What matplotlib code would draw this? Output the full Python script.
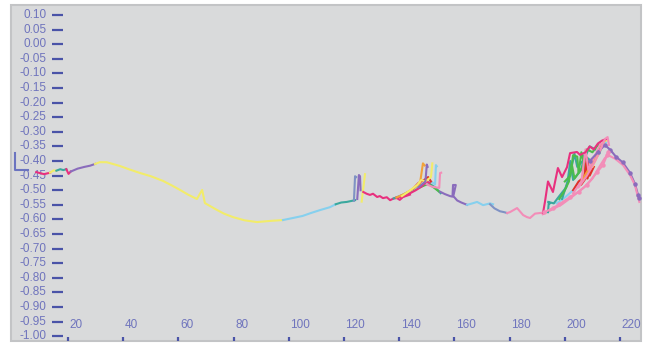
import matplotlib.pyplot as plt
import matplotlib.transforms as mtransforms
from matplotlib.patches import Rectangle

# y / x ticks
y_ticks = [0.10, 0.05, 0.00, -0.05, -0.10, -0.15, -0.20, -0.25, -0.30, -0.35, -0.40,
           -0.45, -0.50, -0.55, -0.60, -0.65, -0.70, -0.75, -0.80, -0.85, -0.90, -0.95, -1.00]
x_ticks = [20, 40, 60, 80, 100, 120, 140, 160, 180, 200, 220]

# left start
start_x = [0.8, 0.8, 5.5]
start_y = [-0.373, -0.431, -0.431]
pink0_x = [8.5, 11.3, 13.5]
pink0_y = [-0.438, -0.445, -0.440]
yellow0_x = [13.5, 14.8, 15.8]
yellow0_y = [-0.440, -0.432, -0.433]
teal0_x = [15.8, 17.2, 18.3, 19.4]
teal0_y = [-0.433, -0.428, -0.431, -0.428]
magenta0_x = [19.4, 20.2, 21.0]
magenta0_y = [-0.428, -0.444, -0.436]
purple0_x = [21.0, 23.5, 26.0, 28.0, 29.8]
purple0_y = [-0.436, -0.426, -0.420, -0.416, -0.410]

# long yellow descent
yellow_x = [29.8, 31.5, 34, 38.8, 42, 46.1, 50, 54.4, 57.5, 60.6, 63.5, 66.7, 68.6,
            69.6, 73.3, 76.5, 79.8, 84, 88.5, 93.2, 97.9]
yellow_y = [-0.410, -0.404, -0.404, -0.417, -0.428, -0.441, -0.452, -0.468, -0.483,
            -0.499, -0.515, -0.530, -0.499, -0.544, -0.564, -0.580, -0.592, -0.603,
            -0.609, -0.605, -0.602]
lblue1_x = [97.9, 102, 105, 108, 111.3, 114.9, 117]
lblue1_y = [-0.602, -0.594, -0.588, -0.578, -0.568, -0.558, -0.548]
teal1_x = [117, 119, 121, 123, 124]
teal1_y = [-0.548, -0.542, -0.540, -0.536, -0.534]
spike_teal_x = [123.6, 124.0, 124.4]
spike_teal_y = [-0.536, -0.452, -0.455]
spike_purple_x = [124.8, 125.4, 125.8, 126.0]
spike_purple_y = [-0.530, -0.448, -0.452, -0.500]
spike_yellow_x = [126.4, 127.6]
spike_yellow_y = [-0.539, -0.445]
magenta1_x = [127.0, 128.2, 129.4, 130.5, 132.0, 133.0, 134.1, 135.5, 136.7, 138.0,
              139.2, 140.2, 141.4, 143.9]
magenta1_y = [-0.506, -0.512, -0.516, -0.512, -0.523, -0.520, -0.527, -0.524, -0.534,
              -0.528, -0.527, -0.533, -0.523, -0.515]

# middle cluster
mid_orange_x = [139, 142, 145, 147.5, 148.6, 149.2]
mid_orange_y = [-0.525, -0.512, -0.495, -0.478, -0.408, -0.415]
mid_yellow_x = [141, 144, 146.5, 148.0, 149.5, 151.5, 152.0]
mid_yellow_y = [-0.520, -0.500, -0.482, -0.465, -0.470, -0.455, -0.408]
mid_teal_x = [138, 141.5, 145, 148, 151, 153, 155]
mid_teal_y = [-0.528, -0.515, -0.498, -0.484, -0.478, -0.490, -0.510]
mid_lblue_x = [140, 143, 146, 149, 151.5, 153.0, 153.3, 153.6]
mid_lblue_y = [-0.522, -0.508, -0.492, -0.478, -0.470, -0.480, -0.414, -0.418]
mid_green_x = [142, 145, 148, 150.5, 152, 154.5]
mid_green_y = [-0.518, -0.500, -0.488, -0.478, -0.487, -0.505]
mid_red_x = [145, 147, 149, 150.5, 151.5]
mid_red_y = [-0.495, -0.475, -0.465, -0.455, -0.470]
mid_pink_x = [150, 152, 154.5, 154.8, 155.2]
mid_pink_y = [-0.480, -0.488, -0.492, -0.441, -0.440]
mid_magenta_x = [139, 142, 144, 146, 148, 150, 151]
mid_magenta_y = [-0.525, -0.520, -0.510, -0.500, -0.488, -0.470, -0.475]
mid_purple_x = [147, 149.5, 150.0, 150.3]
mid_purple_y = [-0.490, -0.470, -0.412, -0.420]

purple_tail_x = [154.8, 156.5, 158.4, 159.3, 159.5, 160.5, 159.6, 161, 162.5, 164.6]
purple_tail_y = [-0.505, -0.513, -0.520, -0.522, -0.482, -0.482, -0.520, -0.535, -0.542, -0.550]
lblue2_x = [164.6, 166.5, 168.2, 170.4, 172.9, 174.0]
lblue2_y = [-0.550, -0.545, -0.540, -0.551, -0.545, -0.548]
gray_tail_x = [172.9, 174.5, 176.5, 178, 179.1]
gray_tail_y = [-0.548, -0.562, -0.572, -0.575, -0.578]
pink2_x = [179.1, 180.1, 182.7, 184.9, 186.3, 187.4, 189.2, 191.0, 192.5]
pink2_y = [-0.578, -0.575, -0.561, -0.585, -0.592, -0.595, -0.580, -0.578, -0.576]

# right cluster
pink_low1_x = [192.5, 195.7, 198, 201.9, 205, 208, 211.7, 213.8, 215.3, 215.7]
pink_low1_y = [-0.576, -0.561, -0.548, -0.523, -0.505, -0.482, -0.438, -0.414, -0.380, -0.369]
pink_low2_x = [192, 195, 199, 203, 207, 210, 212.5, 214.5, 216]
pink_low2_y = [-0.582, -0.568, -0.548, -0.520, -0.490, -0.460, -0.420, -0.390, -0.375]
pink_arc_x = [215.7, 218.2, 221.1, 223.6, 225.4, 226.5, 227.0]
pink_arc_y = [-0.380, -0.392, -0.414, -0.448, -0.482, -0.523, -0.540]
magenta_zz_x = [192.1, 192.8, 193.9, 195.7, 197.5, 199.0, 200.8, 201.9, 204.4, 205.5,
                207.5, 209, 210.5, 212, 213.5, 215]
magenta_zz_y = [-0.578, -0.540, -0.470, -0.506, -0.424, -0.455, -0.421, -0.373, -0.369,
                -0.379, -0.370, -0.350, -0.360, -0.340, -0.330, -0.325]
teal_spike_x = [193.9, 194.2, 194.6]
teal_spike_y = [-0.575, -0.540, -0.545]
green_r_x = [200, 202, 203, 204.5, 205, 206.5, 208, 210, 212]
green_r_y = [-0.470, -0.450, -0.380, -0.385, -0.440, -0.420, -0.360, -0.370, -0.345]
green2_x = [198, 200, 201.5, 202.5, 203.5, 205, 206, 207.5]
green2_y = [-0.530, -0.500, -0.470, -0.410, -0.460, -0.440, -0.370, -0.430]
teal_r_x = [194, 196, 198, 200.5, 202, 203.5, 204.5, 207, 209, 211]
teal_r_y = [-0.540, -0.545, -0.520, -0.490, -0.440, -0.375, -0.420, -0.395, -0.350, -0.360]
teal2_x = [199, 201, 202, 203, 206, 207, 209.5, 212.5, 213.5]
teal2_y = [-0.530, -0.470, -0.400, -0.465, -0.430, -0.380, -0.400, -0.375, -0.345]
red_r_x = [203, 205, 207, 208, 208.2, 209.5, 211, 213]
red_r_y = [-0.500, -0.470, -0.455, -0.390, -0.460, -0.420, -0.395, -0.350]
red2_x = [206, 207.5, 208.3, 209, 210.5]
red2_y = [-0.480, -0.460, -0.400, -0.450, -0.420]
orange_r_x = [206, 208.5, 210.5, 212, 213.5, 214.5]
orange_r_y = [-0.470, -0.430, -0.400, -0.380, -0.345, -0.330]
yellow_r_x = [210, 212, 213.5, 214.5, 215]
yellow_r_y = [-0.420, -0.380, -0.350, -0.325, -0.330]
lblue_r_x = [197, 200, 203, 206, 209, 211, 213, 215]
lblue_r_y = [-0.545, -0.525, -0.500, -0.470, -0.430, -0.395, -0.360, -0.335]
pink_hi_x = [205, 208, 211, 213, 214.5, 215.5, 216]
pink_hi_y = [-0.490, -0.450, -0.400, -0.360, -0.325, -0.318, -0.345]
pink3_x = [203, 206, 207.5, 208.5, 210, 211.5, 213]
pink3_y = [-0.510, -0.470, -0.360, -0.430, -0.400, -0.370, -0.340]
purple_r_x = [209, 212, 214.5, 216.5, 218.5, 221, 223.6, 225.4, 226.5, 227.0]
purple_r_y = [-0.400, -0.370, -0.345, -0.362, -0.385, -0.405, -0.440, -0.478, -0.515, -0.525]

YEL = '#f2ec6a'
LBL = '#86d0ee'
MAG = '#e8307e'
PNK = '#f38db8'
PUR = '#8a6cbc'
TEA = '#3aa89e'
GRN = '#4cbb4c'
RED = '#e0302a'
ORA = '#f2a23a'
GBL = '#7f92c4'

traces = [
    (start_x, start_y, '#6b74c0'),
    (pink0_x, pink0_y, MAG), (yellow0_x, yellow0_y, YEL), (teal0_x, teal0_y, TEA),
    (magenta0_x, magenta0_y, MAG), (purple0_x, purple0_y, PUR),
    (yellow_x, yellow_y, YEL), (lblue1_x, lblue1_y, LBL), (teal1_x, teal1_y, TEA),
    (spike_teal_x, spike_teal_y, GBL), (spike_purple_x, spike_purple_y, PUR),
    (spike_yellow_x, spike_yellow_y, YEL), (magenta1_x, magenta1_y, MAG),
    (mid_teal_x, mid_teal_y, TEA), (mid_green_x, mid_green_y, GRN),
    (mid_lblue_x, mid_lblue_y, LBL), (mid_magenta_x, mid_magenta_y, MAG),
    (mid_red_x, mid_red_y, RED), (mid_orange_x, mid_orange_y, ORA),
    (mid_yellow_x, mid_yellow_y, YEL), (mid_purple_x, mid_purple_y, PUR),
    (mid_pink_x, mid_pink_y, PNK),
    (purple_tail_x, purple_tail_y, PUR), (lblue2_x, lblue2_y, LBL),
    (gray_tail_x, gray_tail_y, GBL), (pink2_x, pink2_y, PNK),
    (pink_low2_x, pink_low2_y, PNK), (teal_spike_x, teal_spike_y, TEA),
    (lblue_r_x, lblue_r_y, LBL), (teal_r_x, teal_r_y, TEA), (teal2_x, teal2_y, TEA),
    (green_r_x, green_r_y, GRN), (green2_x, green2_y, GRN),
    (red_r_x, red_r_y, RED), (red2_x, red2_y, RED), (orange_r_x, orange_r_y, ORA),
    (yellow_r_x, yellow_r_y, YEL), (pink3_x, pink3_y, PNK),
    (purple_r_x, purple_r_y, PUR), (magenta_zz_x, magenta_zz_y, MAG),
    (pink_hi_x, pink_hi_y, PNK), (pink_low1_x, pink_low1_y, PNK),
    (pink_arc_x, pink_arc_y, PNK),
]

fig = plt.figure(figsize=(6.47, 3.46), dpi=100)
fig.patch.set_facecolor('white')
fig.add_artist(Rectangle((11 / 647, 5 / 346), 630 / 647, 336 / 346, transform=fig.transFigure,
                         facecolor='#d9dadb', edgecolor='#c3c4c6', lw=1.5, zorder=0))
ax = fig.add_axes([11 / 647, 5 / 346, 630 / 647, 336 / 346])
ax.patch.set_visible(False)

for xs, ys, c in traces:
    ax.plot(xs, ys, color=c, lw=1.5, solid_joinstyle='round')
ax.plot(purple_r_x, purple_r_y, ls='none', marker='o', ms=2.2, color=PUR)
ax.plot(pink_low1_x, pink_low1_y, ls='none', marker='o', ms=2.2, color=PNK)

ax.set_xlim(-0.65, 227.6)
ax.set_ylim(-1.016, 0.134)

for s in ['top', 'right', 'bottom', 'left']:
    ax.spines[s].set_visible(False)
ax.spines['left'].set_position(('data', 14.2))

lab_color = '#6f74bd'
tick_color = '#4a53a8'
ax.set_yticks(y_ticks)
ax.set_yticklabels(['%.2f' % v for v in y_ticks])
ax.tick_params(axis='y', direction='in', length=8, width=1.6, color=tick_color,
               labelcolor=lab_color, labelsize=8.5, pad=4)
ax.set_xticks(x_ticks)
ax.set_xticklabels([str(v) for v in x_ticks])
ax.tick_params(axis='x', direction='in', length=3, width=1.6, color=tick_color,
               labelcolor=lab_color, labelsize=8.5, pad=-16)

for lab in ax.get_yticklabels():
    lab.set_fontfamily('Liberation Sans')
    lab.set_transform(lab.get_transform() + mtransforms.ScaledTranslation(0, 1.5 / 100, fig.dpi_scale_trans))
for lab in ax.get_xticklabels():
    lab.set_fontfamily('Liberation Sans')
    lab.set_horizontalalignment('left')
    lab.set_transform(lab.get_transform() + mtransforms.ScaledTranslation(1.5 / 100, 0, fig.dpi_scale_trans))

fig.savefig('out.png', dpi=100)
